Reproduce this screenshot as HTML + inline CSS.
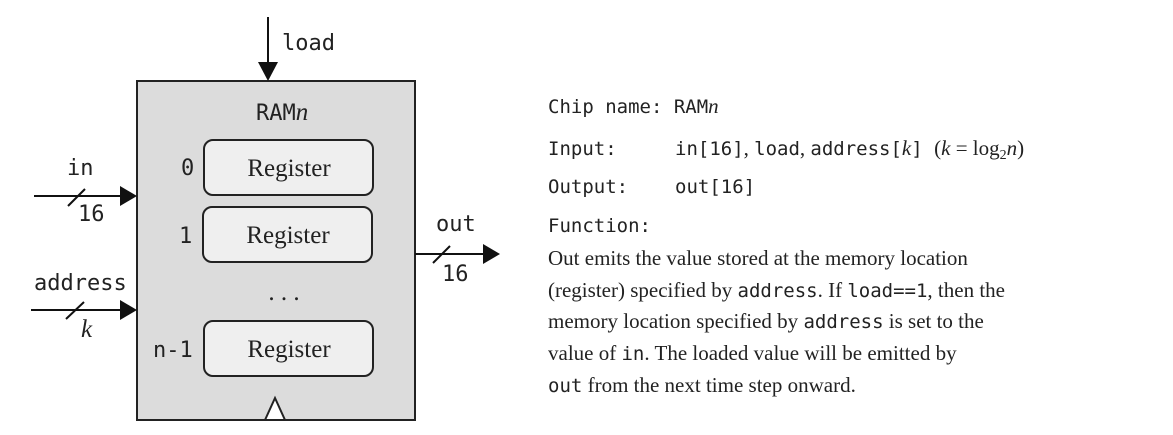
<!DOCTYPE html>
<html><head><style>
body{margin:0;width:1173px;height:435px;background:#fff;overflow:hidden}
svg{position:absolute;left:0;top:0}
.m{font-family:"DejaVu Sans Mono","Liberation Mono",monospace;font-size:19px;fill:#222}
.d{font-family:"DejaVu Sans Mono","Liberation Mono",monospace;font-size:22px;fill:#222}
.s{font-family:"Liberation Serif",serif;font-size:21px;fill:#222}
.r{font-family:"Liberation Serif",serif;font-size:25px;fill:#222}
.i{font-family:"Liberation Serif",serif;font-style:italic;font-size:21px;fill:#222}
.ib{font-family:"Liberation Serif",serif;font-style:italic;font-size:25px;fill:#222}
</style></head><body>
<svg width="1173" height="435" viewBox="0 0 1173 435">
<rect x="137" y="81" width="278" height="339" fill="#dcdcdc" stroke="#222" stroke-width="2"/>
<line x1="268" y1="17" x2="268" y2="64" stroke="#111" stroke-width="2"/>
<polygon points="258,62 278,62 268,81" fill="#111"/>
<text class="d" x="282" y="50">load</text>
<text class="d" x="256" y="120">RAM<tspan class="ib">n</tspan></text>
<rect x="204" y="140" width="169" height="55" rx="9" fill="#efefef" stroke="#222" stroke-width="2"/>
<rect x="203" y="207" width="169" height="55" rx="9" fill="#efefef" stroke="#222" stroke-width="2"/>
<rect x="204" y="321" width="169" height="55" rx="9" fill="#efefef" stroke="#222" stroke-width="2"/>
<text class="r" x="289" y="176" text-anchor="middle">Register</text>
<text class="r" x="288" y="243" text-anchor="middle">Register</text>
<text class="r" x="289" y="357" text-anchor="middle">Register</text>
<text class="d" x="181" y="175">0</text>
<text class="d" x="179" y="243">1</text>
<text class="d" x="153" y="357">n-1</text>
<text class="r" x="284" y="300" text-anchor="middle">. . .</text>
<polygon points="265,420 275,398 285,420" fill="#fff" stroke="#222" stroke-width="2"/>
<line x1="34" y1="196" x2="122" y2="196" stroke="#111" stroke-width="2"/>
<polygon points="120,186 137,196 120,206" fill="#111"/>
<line x1="68" y1="206" x2="85" y2="189" stroke="#111" stroke-width="2"/>
<text class="d" x="67" y="175">in</text>
<text class="d" x="78" y="221">16</text>
<line x1="31" y1="310" x2="122" y2="310" stroke="#111" stroke-width="2"/>
<polygon points="120,300 137,310 120,320" fill="#111"/>
<line x1="66" y1="319" x2="84" y2="302" stroke="#111" stroke-width="2"/>
<text class="d" x="34" y="290">address</text>
<text class="ib" x="81" y="337">k</text>
<line x1="415" y1="254" x2="485" y2="254" stroke="#111" stroke-width="2"/>
<polygon points="483,244 500,254 483,264" fill="#111"/>
<line x1="433" y1="263" x2="450" y2="246" stroke="#111" stroke-width="2"/>
<text class="d" x="436" y="231">out</text>
<text class="d" x="442" y="281">16</text>
<text class="m" x="548" y="113">Chip name: RAM<tspan class="i">n</tspan></text>
<text class="m" x="548" y="155">Input:</text>
<text class="m" x="675" y="155">in[16]<tspan class="s">, </tspan>load<tspan class="s">, </tspan>address[<tspan class="i">k</tspan>] <tspan class="s">(<tspan class="i">k</tspan> = log<tspan font-size="14" dy="4">2</tspan><tspan class="i" dy="-4">n</tspan>)</tspan></text>
<text class="m" x="548" y="193">Output:</text>
<text class="m" x="675" y="193">out[16]</text>
<text class="m" x="548" y="232">Function:</text>
<text class="s" x="548" y="265">Out emits the value stored at the memory location</text>
<text class="s" x="548" y="297">(register) specified by <tspan class="m">address</tspan>. If <tspan class="m">load==1</tspan>, then the</text>
<text class="s" x="548" y="328">memory location specified by <tspan class="m">address</tspan> is set to the</text>
<text class="s" x="548" y="360">value of <tspan class="m">in</tspan>. The loaded value will be emitted by</text>
<text class="s" x="548" y="392"><tspan class="m">out</tspan> from the next time step onward.</text>
</svg>
</body></html>
